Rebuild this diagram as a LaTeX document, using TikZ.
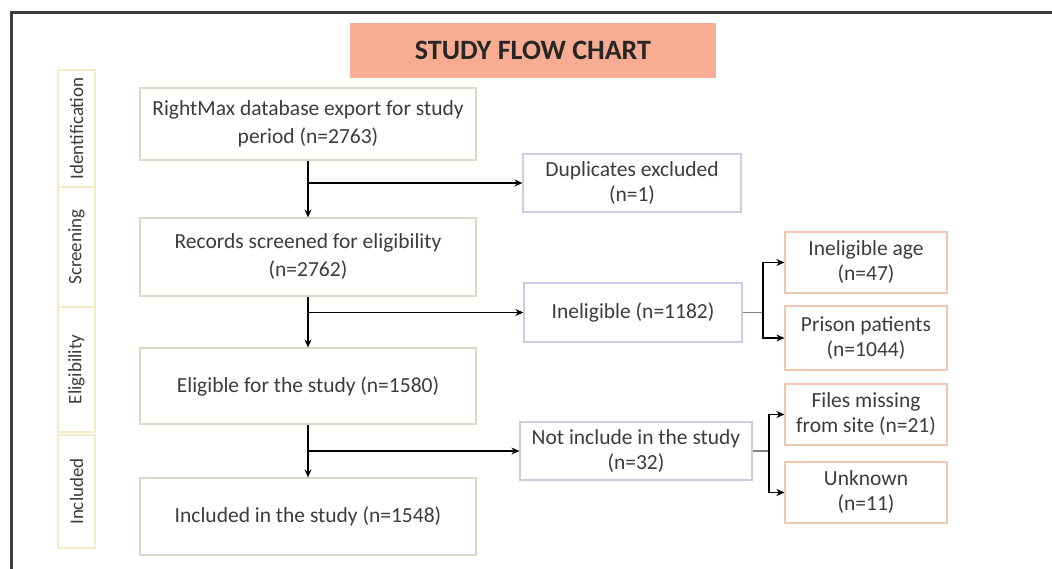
\documentclass[tikz,border=0pt]{standalone}
\usepackage{fontspec}
\setmainfont{Carlito}
\usetikzlibrary{arrows.meta}
\definecolor{titlefill}{RGB}{248,172,145}
\definecolor{greenb}{RGB}{212,220,200}
\definecolor{blueb}{RGB}{200,205,228}
\definecolor{salmonb}{RGB}{240,200,178}
\definecolor{yellowb}{RGB}{245,234,196}
\definecolor{txt}{RGB}{60,60,60}
\definecolor{frame}{RGB}{60,60,60}
\begin{document}
\begin{tikzpicture}[x=1pt,y=-1pt,
  mainbox/.style={draw=greenb,line width=1.2pt,minimum width=336pt,align=center,inner sep=2pt,text=txt,font=\fontsize{21.5}{28}\selectfont},
  midbox/.style={draw=blueb,line width=1.2pt,align=center,inner sep=2pt,text=txt,font=\fontsize{21.5}{25}\selectfont},
  sidebox/.style={draw=salmonb,line width=1.2pt,minimum width=162pt,align=center,inner sep=2pt,text=txt,font=\fontsize{21.5}{25}\selectfont},
  phase/.style={draw=yellowb,line width=1.2pt,minimum height=37pt,inner sep=0pt,rotate=90,text=txt,font=\fontsize{19}{22}\selectfont},
  arr/.style={line width=1.6pt,-{Stealth[length=8pt,width=7pt]}},
  ln/.style={line width=1.6pt},
]
\useasboundingbox (0,0) rectangle (1052,569);
\fill[white] (0,0) rectangle (1052,569);
\draw[frame,line width=3pt] (11,13) rectangle (1080,600);

\node[fill=titlefill,minimum width=366pt,minimum height=55pt,font=\bfseries\fontsize{28}{32}\selectfont,text=black!85] (title) at (533,50.5) {STUDY FLOW CHART};

\node[phase,minimum width=117pt] (p1) at (76.5,128.5) {Identification};
\node[phase,minimum width=120pt] (p2) at (76.5,247) {Screening};
\node[phase,minimum width=125pt] (p3) at (76.5,369.5) {Eligibility};
\node[phase,minimum width=113pt] (p4) at (76.5,491.5) {Included};

\node[mainbox,minimum height=72pt] (b1) at (308,124) {RightMax database export for study\\period (n=2763)};
\node[mainbox,minimum height=78pt] (b2) at (308,257) {Records screened for eligibility\\(n=2762)};
\node[mainbox,minimum height=76pt] (b3) at (308,386) {Eligible for the study (n=1580)};
\node[mainbox,minimum height=77pt] (b4) at (308,516.5) {Included in the study (n=1548)};

\node[midbox,minimum width=218pt,minimum height=58pt] (dup) at (632,183) {Duplicates excluded\\(n=1)};
\node[midbox,minimum width=218pt,minimum height=59pt] (inel) at (633,312.5) {Ineligible (n=1182)};
\node[midbox,minimum width=232pt,minimum height=58pt] (notin) at (636,451) {Not include in the study\\(n=32)};

\node[sidebox,minimum height=61pt] (age) at (866,262.5) {Ineligible age\\(n=47)};
\node[sidebox,minimum height=64pt] (prison) at (866,338) {Prison patients\\(n=1044)};
\node[sidebox,minimum height=61pt] (files) at (866,414.5) {Files missing\\from site (n=21)};
\node[sidebox,minimum height=61pt] (unk) at (866,492.5) {Unknown\\(n=11)};

\draw[arr] (b1) -- (b2);
\draw[arr] (b2) -- (b3);
\draw[arr] (b3) -- (b4);
\draw[arr] (b1.south |- dup.west) -- (dup.west);
\draw[arr] (b2.south |- inel.west) -- (inel.west);
\draw[arr] (b3.south |- notin.west) -- (notin.west);

\coordinate (j1) at (763,312.5);
\coordinate (j2) at (769,451);
\draw[ln,gray] (inel.east) -- (j1);
\draw[ln,gray] (notin.east) -- (j2);
\draw[arr] (j1) |- (age.west);
\draw[arr] (j1) |- (prison.west);
\draw[arr] (j2) |- (files.west);
\draw[arr] (j2) |- (unk.west);
\end{tikzpicture}
\end{document}
